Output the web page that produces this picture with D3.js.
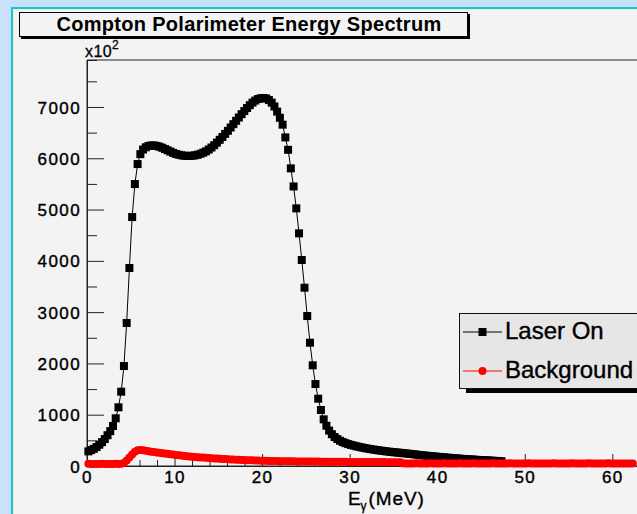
<!DOCTYPE html>
<html>
<head>
<meta charset="utf-8">
<script src="https://cdn.jsdelivr.net/npm/d3@7"></script>
<style>
  body { margin: 0; background: #c9e1fa; overflow: hidden; }
  svg { display: block; }
  text { font-family: "Liberation Sans", Arial, Helvetica, sans-serif; fill: #000; }
</style>
</head>
<body>
<svg id="chart" width="637" height="514"></svg>
<script>
// Channel width of the spectrum, in MeV; points sit at channel centres.
const binWidth = 0.3125;

// Counts per channel (x10^2), laser on.
const laserOn = [
  285, 310, 335, 370, 415, 465, 525, 600, 680, 780,
  930, 1144, 1449, 1949, 2788, 3860, 4854, 5497, 5887,
  6080, 6170, 6215, 6240, 6250, 6250, 6240, 6225, 6205, 6180, 6155,
  6130, 6105, 6085, 6070, 6058, 6050, 6046, 6046, 6050, 6058,
  6070, 6088, 6110, 6135, 6170, 6210, 6255, 6305, 6360, 6415,
  6475, 6535, 6600, 6665, 6730, 6795, 6860, 6920, 6980, 7035,
  7085, 7125, 7155, 7170, 7175, 7165, 7135, 7085, 7010, 6910,
  6790, 6655, 6407, 6165, 5803, 5450, 5023, 4536, 4016, 3476,
  2924, 2404, 1963, 1598, 1312, 1092, 910, 785, 690, 620,
  565, 525, 492, 466, 445, 427, 411, 397, 384, 372,
  361, 350, 340, 331, 322, 314, 306, 299, 292, 285,
  279, 273, 267, 262, 257, 251, 246, 240, 234, 228,
  222, 215, 209, 203, 198, 193, 188, 183, 178, 173,
  168, 164, 159, 155, 150, 146, 142, 138, 134, 130,
  127, 124, 120, 117, 114, 111, 108, 105, 102, 99, 96, 93
];

// Counts per channel (x10^2), background run.
const background = [
  42, 40, 41, 39, 40, 42, 41, 40, 39, 41, 42, 40, 44,
  60, 105, 165, 225, 280, 308,
  312, 306, 297, 288, 280, 272, 265, 258, 251, 244, 237,
  230, 222, 215, 209, 203, 197, 192, 187, 182, 177,
  172, 168, 164, 160, 156, 152, 148, 144, 141, 138,
  135, 132, 129, 126, 123, 121, 118, 116, 114, 112,
  110, 108, 106, 104, 102, 101, 99, 98, 97, 96,
  95, 94, 93, 92, 92, 91, 90, 90, 89, 88,
  88, 87, 87, 86, 86, 85, 85, 84, 84, 83,
  83, 82, 82, 81, 81, 80, 80, 80, 79, 79,
  78, 78, 78, 77, 77, 77, 76, 76, 76, 75,
  75, 75, 74, 74, 74,
  52, 49, 51, 48, 50, 53, 49, 51, 47, 50,
  52, 48, 50, 51, 49, 53, 50, 48, 51, 49,
  50, 52, 48, 50, 49, 51, 53, 48, 50, 49,
  51, 50, 48, 52, 49, 50, 51, 47, 50, 52,
  49, 50, 48, 51, 50, 49, 52, 50, 48, 51,
  50, 49, 51, 48, 50, 52, 49, 50, 51, 48,
  50, 49, 52, 50, 48, 51, 49, 50, 52, 49,
  50, 51, 48, 50, 49, 52, 50, 48, 51, 50,
  49, 51, 50, 48, 50
];

const xMajorTicks = [0, 10, 20, 30, 40, 50, 60];
const yMajorTicks = [0, 1000, 2000, 3000, 4000, 5000, 6000, 7000];

const titleText = "Compton Polarimeter Energy Spectrum";
const seriesNames = ["Laser On", "Background"];
const seriesColors = ["#000000", "#ff0000"];

const toPoints = vals => vals.map((v, i) => ({ e: (i + 0.5) * binWidth, v }));

const svg = d3.select("#chart");

// canvas background with its coloured border lines
svg.append("rect").attr("x", 0).attr("y", 0).attr("width", 637).attr("height", 514).attr("fill", "#c9e1fa");
svg.append("rect").attr("x", 11).attr("y", 7).attr("width", 640).attr("height", 520).attr("fill", "#10c4f0");
svg.append("rect").attr("x", 13).attr("y", 9).attr("width", 640).attr("height", 520).attr("fill", "#f4f49a");
svg.append("rect").attr("x", 14).attr("y", 10).attr("width", 640).attr("height", 520).attr("fill", "#f3f3f3");

// plot frame geometry
const plotLeft = 87, plotTop = 60, plotBottom = 466;
const x = d3.scaleLinear().domain([0, 64]).range([plotLeft, plotLeft + 64 * 8.755]);
const y = d3.scaleLinear().domain([0, 7916]).range([plotBottom, plotTop]);

const frame = svg.append("g");
frame.append("line").attr("x1", plotLeft).attr("x2", 700).attr("y1", plotTop).attr("y2", plotTop)
  .attr("stroke", "#222").attr("stroke-width", 1);

// y axis: ticks drawn inward
const yAxis = d3.axisLeft(y).tickValues(yMajorTicks).tickSize(-17).tickPadding(6)
  .tickFormat(d3.format("d"));
const yAxisMinor = d3.axisLeft(y).tickValues(d3.range(500, 7916, 1000)).tickSize(-10).tickFormat("");
const gyMinor = frame.append("g").attr("transform", `translate(${plotLeft},0)`).call(yAxisMinor);
const gy = frame.append("g").attr("transform", `translate(${plotLeft},0)`).call(yAxis);

// x axis: ticks drawn upward
const xAxis = d3.axisBottom(x).tickValues(xMajorTicks).tickSize(-12).tickPadding(5)
  .tickFormat(d3.format("d"));
const xAxisMinor = d3.axisBottom(x).tickValues(d3.range(2, 64, 2).filter(d => d % 10 !== 0))
  .tickSize(-6).tickFormat("");
const gxMinor = frame.append("g").attr("transform", `translate(0,${plotBottom})`).call(xAxisMinor);
const gx = frame.append("g").attr("transform", `translate(0,${plotBottom})`).call(xAxis);

[gy, gyMinor, gx, gxMinor].forEach(g => {
  g.select(".domain").attr("stroke", "#222").attr("stroke-width", 1);
  g.selectAll(".tick line").attr("stroke", "#222").attr("stroke-width", 1);
  g.selectAll("text").attr("font-size", 17).attr("letter-spacing", 1.4)
    .attr("font-family", "Liberation Sans, Arial, sans-serif").attr("fill", "#000")
    .attr("stroke", "#000").attr("stroke-width", 0.4);
});
gy.select(".domain").attr("d", `M0,${plotBottom}V${plotTop}`);
gx.select(".domain").attr("d", `M${plotLeft},0H700`);
gy.selectAll("text").attr("dy", "0.36em");

// axis scale factor and title
const mult = svg.append("text").attr("x", 85).attr("y", 57).attr("font-size", 16)
  .attr("letter-spacing", 0.4).attr("stroke", "#000").attr("stroke-width", 0.3);
mult.append("tspan").text("x10");
mult.append("tspan").attr("font-size", 12).attr("dy", -8).text("2");

const xt = svg.append("text").attr("x", 348).attr("y", 504.5).attr("font-size", 19)
  .attr("letter-spacing", 0.9).attr("stroke", "#000").attr("stroke-width", 0.35);
xt.append("tspan").text("E");
xt.append("tspan").attr("font-size", 12).attr("dy", 5).attr("dx", -1).text("γ");
xt.append("tspan").attr("dy", -5).attr("dx", 1).text("(MeV)");

// series: connecting line plus markers
const line = d3.line().x(d => x(d.e)).y(d => y(d.v));

const laserPts = toPoints(laserOn);
const bgPts = toPoints(background);

svg.append("path").datum(laserPts).attr("d", line)
  .attr("fill", "none").attr("stroke", seriesColors[0]).attr("stroke-width", 1);
svg.append("g").selectAll("rect").data(laserPts).join("rect")
  .attr("x", d => x(d.e) - 4).attr("y", d => y(d.v) - 4)
  .attr("width", 8).attr("height", 8).attr("fill", seriesColors[0]);

svg.append("path").datum(bgPts).attr("d", line)
  .attr("fill", "none").attr("stroke", seriesColors[1]).attr("stroke-width", 1);
svg.append("g").selectAll("circle").data(bgPts).join("circle")
  .attr("cx", d => x(d.e)).attr("cy", d => y(d.v)).attr("r", 4)
  .attr("fill", seriesColors[1]);

// title box with drop shadow
svg.append("rect").attr("x", 21).attr("y", 14).attr("width", 449).attr("height", 25).attr("fill", "#000");
svg.append("rect").attr("x", 19.5).attr("y", 12.5).attr("width", 448).attr("height", 24)
  .attr("fill", "#f3f3f3").attr("stroke", "#000").attr("stroke-width", 1);
svg.append("text").attr("x", 249).attr("y", 31).attr("text-anchor", "middle")
  .attr("font-size", 20).attr("font-weight", "bold").attr("letter-spacing", 0.3)
  .text(titleText);

// legend box with drop shadow
const lg = svg.append("g");
lg.append("rect").attr("x", 466).attr("y", 317).attr("width", 200).attr("height", 76).attr("fill", "#000");
lg.append("rect").attr("x", 459.5).attr("y", 313.5).attr("width", 200).attr("height", 75)
  .attr("fill", "#e6e6e6").attr("stroke", "#111").attr("stroke-width", 1);
const legendRows = [332, 371];
seriesNames.forEach((name, i) => {
  const ly = legendRows[i];
  lg.append("line").attr("x1", 463).attr("x2", 502).attr("y1", ly).attr("y2", ly)
    .attr("stroke", seriesColors[i]).attr("stroke-width", 1);
  if (i === 0) {
    lg.append("rect").attr("x", 478.5).attr("y", ly - 4).attr("width", 8).attr("height", 8).attr("fill", seriesColors[i]);
  } else {
    lg.append("circle").attr("cx", 482.5).attr("cy", ly).attr("r", 4).attr("fill", seriesColors[i]);
  }
  lg.append("text").attr("x", 505).attr("y", ly + 6.5).attr("font-size", 24)
    .attr("stroke", "#000").attr("stroke-width", 0.4)
    .text(name);
});
</script>
</body>
</html>
